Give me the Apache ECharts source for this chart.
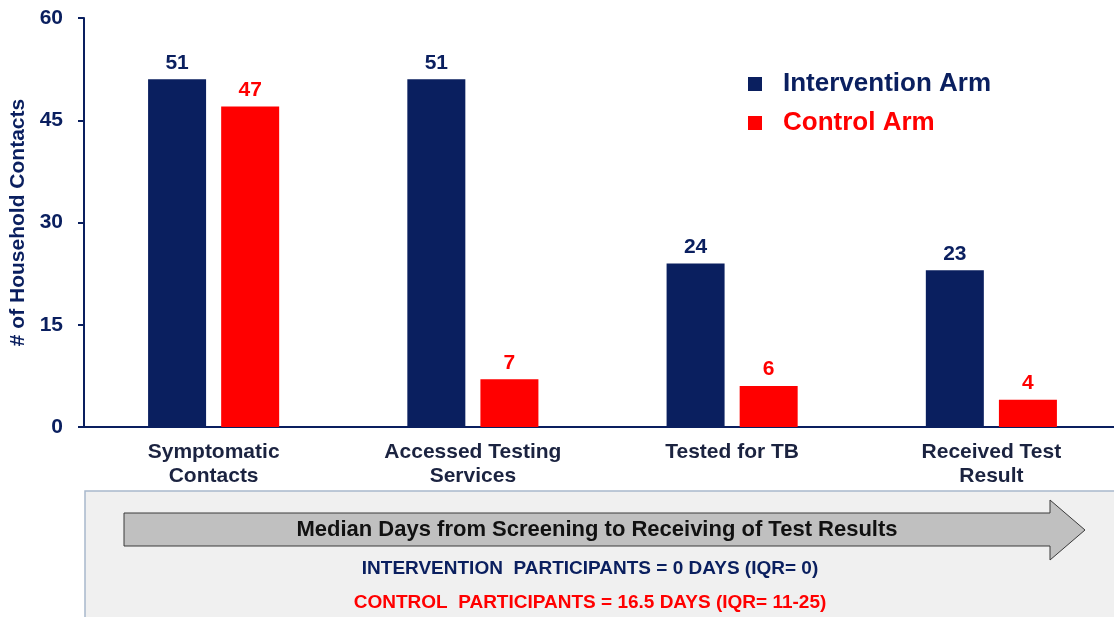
<!DOCTYPE html>
<html>
<head>
<meta charset="utf-8">
<script src="https://cdn.jsdelivr.net/npm/echarts@6/dist/echarts.min.js"></script>
<style>
  html, body { margin: 0; padding: 0; background: #fff; }
  #chart-container { width: 1114px; height: 617px; }
</style>
</head>
<body>
<div id="chart-container"></div>
<script>
var dom = document.getElementById('chart-container');
var myChart = echarts.init(dom, null, { renderer: 'canvas' });

var NAVY = '#0a1f5f';
var RED = '#ff0000';
var FONT = '"Liberation Sans", Arial, sans-serif';

// data
var categories = ['Symptomatic\nContacts', 'Accessed Testing\nServices', 'Tested for TB', 'Received Test\nResult'];
var interventionArm = [51, 51, 24, 23];
var controlArm = [47, 7, 6, 4];
var seriesNames = ['Intervention Arm', 'Control Arm'];
var yTicks = [0, 15, 30, 45, 60];

var arrowTitle = 'Median Days from Screening to Receiving of Test Results';
var interventionNote = 'INTERVENTION  PARTICIPANTS = 0 DAYS (IQR= 0)';
var controlNote = 'CONTROL  PARTICIPANTS = 16.5 DAYS (IQR= 11-25)';

var option = {
  animation: false,
  textStyle: { fontFamily: FONT },
  grid: { left: 84, top: 18, width: 1037, height: 409, outerBoundsMode: 'none' },
  legend: {
    orient: 'vertical',
    left: 743,
    top: 66,
    itemWidth: 14,
    itemHeight: 14,
    itemGap: 13,
    icon: 'rect',
    data: [
      { name: seriesNames[0], textStyle: { color: NAVY } },
      { name: seriesNames[1], textStyle: { color: RED } }
    ],
    textStyle: { fontSize: 26, fontWeight: 'bold', fontFamily: FONT, padding: [0, 0, 0, 16] }
  },
  xAxis: {
    type: 'category',
    data: categories,
    axisLine: { lineStyle: { color: NAVY, width: 2 } },
    axisTick: { show: false },
    axisLabel: {
      color: '#1b2340',
      fontSize: 21,
      fontWeight: 'bold',
      lineHeight: 24,
      margin: 13,
      interval: 0
    }
  },
  yAxis: {
    type: 'value',
    min: yTicks[0],
    max: yTicks[yTicks.length - 1],
    interval: 15,
    name: '# of Household Contacts',
    nameLocation: 'middle',
    nameGap: 53,
    nameTextStyle: { color: NAVY, fontSize: 21, fontWeight: 'bold' },
    axisLine: { show: true, lineStyle: { color: NAVY, width: 2 } },
    axisTick: { show: true, length: 6, lineStyle: { color: NAVY, width: 2 } },
    axisLabel: { color: NAVY, fontSize: 21, fontWeight: 'bold', margin: 21 },
    splitLine: { show: false }
  },
  series: [
    {
      name: seriesNames[0],
      type: 'bar',
      data: interventionArm,
      barWidth: 58,
      barGap: '26%',
      itemStyle: { color: NAVY },
      label: { show: true, position: 'top', distance: 6, color: NAVY, fontSize: 21, fontWeight: 'bold' }
    },
    {
      name: seriesNames[1],
      type: 'bar',
      data: controlArm,
      barWidth: 58,
      itemStyle: { color: RED },
      label: { show: true, position: 'top', distance: 6, color: RED, fontSize: 21, fontWeight: 'bold' }
    }
  ],
  graphic: [
    {
      type: 'rect',
      shape: { x: 85, y: 491, width: 1040, height: 140 },
      style: { fill: '#f0f0f0', stroke: '#a8b8cc', lineWidth: 1.5 },
      z: 0
    },
    {
      type: 'polygon',
      shape: {
        points: [[124, 513], [1050, 513], [1050, 500], [1085, 530], [1050, 560], [1050, 546], [124, 546]]
      },
      style: { fill: '#c0c0c0', stroke: '#3a3a3a', lineWidth: 1 },
      z: 1
    },
    {
      type: 'text',
      x: 597,
      y: 530,
      style: {
        text: arrowTitle,
        fill: '#111',
        font: 'bold 22px ' + FONT,
        align: 'center',
        verticalAlign: 'middle'
      },
      z: 2
    },
    {
      type: 'text',
      x: 590,
      y: 569,
      style: {
        text: interventionNote,
        fill: NAVY,
        font: 'bold 19px ' + FONT,
        align: 'center',
        verticalAlign: 'middle'
      },
      z: 2
    },
    {
      type: 'text',
      x: 590,
      y: 603,
      style: {
        text: controlNote,
        fill: RED,
        font: 'bold 19px ' + FONT,
        align: 'center',
        verticalAlign: 'middle'
      },
      z: 2
    }
  ]
};

myChart.setOption(option);
window.addEventListener('resize', myChart.resize);
</script>
</body>
</html>
